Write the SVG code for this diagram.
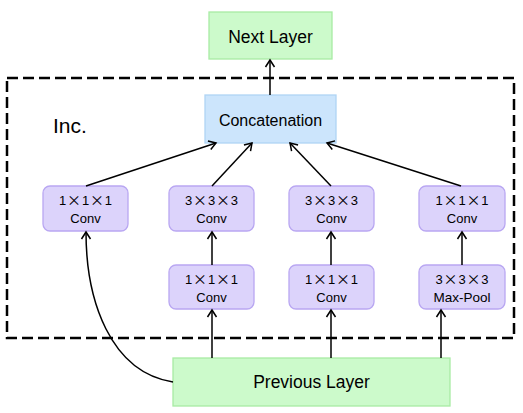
<svg xmlns="http://www.w3.org/2000/svg" width="523" height="413" viewBox="0 0 523 413">
<defs>
<marker id="arr" markerWidth="12" markerHeight="12" refX="10" refY="6" orient="auto" markerUnits="userSpaceOnUse">
<path d="M3,1.5 L10,6 L3,10.5" fill="none" stroke="#000" stroke-width="1.5"/>
</marker>
<style>
text{font-family:"Liberation Sans",Arial,sans-serif;fill:#000}
.op{fill:#dcd3fb;stroke:#b9a7f2;stroke-width:1.3}
.gr{fill:#ccfacb;stroke:#a8eca4;stroke-width:1.3}
.bl{fill:#cce5fc;stroke:#b0d4f5;stroke-width:1.3}
.lbl{font-size:13px;text-anchor:middle}
.x{font-family:"Noto Sans CJK SC","Noto Sans CJK JP",sans-serif;font-size:14px}
.ln{fill:none;stroke:#000;stroke-width:1.5;marker-end:url(#arr)}
</style>
</defs>
<rect x="7" y="78" width="507" height="260" fill="none" stroke="#000" stroke-width="2.5" stroke-dasharray="11,5"/>
<text x="53" y="133" style="font-size:21px">Inc.</text>
<g id="next"><rect class="gr" x="209" y="12" width="123" height="47"/><text x="270.5" y="43" style="font-size:17.5px" text-anchor="middle">Next Layer</text></g>
<g id="concat"><rect class="bl" x="205" y="95" width="131" height="48"/><text x="270.5" y="126" style="font-size:16px" text-anchor="middle">Concatenation</text></g>
<g id="prev"><rect class="gr" x="173" y="358" width="277" height="48"/><text x="311.5" y="388" style="font-size:17.5px" text-anchor="middle">Previous Layer</text></g>
<g id="n1"><rect class="op" x="43" y="186" width="85" height="45" rx="7"/><text class="lbl" x="85.5" y="205" textLength="53" lengthAdjust="spacing">1<tspan class="x">×</tspan>1<tspan class="x">×</tspan>1</text><text class="lbl" x="85.5" y="223">Conv</text></g>
<g id="n2"><rect class="op" x="169" y="186" width="85" height="45" rx="7"/><text class="lbl" x="211.5" y="205" textLength="53" lengthAdjust="spacing">3<tspan class="x">×</tspan>3<tspan class="x">×</tspan>3</text><text class="lbl" x="211.5" y="223">Conv</text></g>
<g id="n3"><rect class="op" x="289" y="186" width="85" height="45" rx="7"/><text class="lbl" x="331.5" y="205" textLength="53" lengthAdjust="spacing">3<tspan class="x">×</tspan>3<tspan class="x">×</tspan>3</text><text class="lbl" x="331.5" y="223">Conv</text></g>
<g id="n4"><rect class="op" x="419" y="186" width="86" height="45" rx="7"/><text class="lbl" x="462" y="205" textLength="53" lengthAdjust="spacing">1<tspan class="x">×</tspan>1<tspan class="x">×</tspan>1</text><text class="lbl" x="462" y="223">Conv</text></g>
<g id="n5"><rect class="op" x="169" y="265" width="85" height="44" rx="7"/><text class="lbl" x="211.5" y="284" textLength="53" lengthAdjust="spacing">1<tspan class="x">×</tspan>1<tspan class="x">×</tspan>1</text><text class="lbl" x="211.5" y="302">Conv</text></g>
<g id="n6"><rect class="op" x="289" y="265" width="85" height="44" rx="7"/><text class="lbl" x="331.5" y="284" textLength="53" lengthAdjust="spacing">1<tspan class="x">×</tspan>1<tspan class="x">×</tspan>1</text><text class="lbl" x="331.5" y="302">Conv</text></g>
<g id="n7"><rect class="op" x="419" y="265" width="86" height="44" rx="7"/><text class="lbl" x="462" y="284" textLength="53" lengthAdjust="spacing">3<tspan class="x">×</tspan>3<tspan class="x">×</tspan>3</text><text class="lbl" x="462" y="302" style="font-size:13.5px">Max-Pool</text></g>
<g id="connectors">
<path class="ln" d="M270,95 L270,60"/>
<path class="ln" d="M86,186 L216,143"/>
<path class="ln" d="M212,186 L252,143"/>
<path class="ln" d="M331,186 L290,143"/>
<path class="ln" d="M461,186 L327,143"/>
<path class="ln" d="M212,265 L212,232"/>
<path class="ln" d="M331,265 L331,232"/>
<path class="ln" d="M462,265 L462,232"/>
<path class="ln" d="M212,358 L212,310"/>
<path class="ln" d="M331,358 L331,310"/>
<path class="ln" d="M441,358 L441,310"/>
<path class="ln" d="M173,382 C110,372 86,300 86,232"/>
</g>
</svg>
